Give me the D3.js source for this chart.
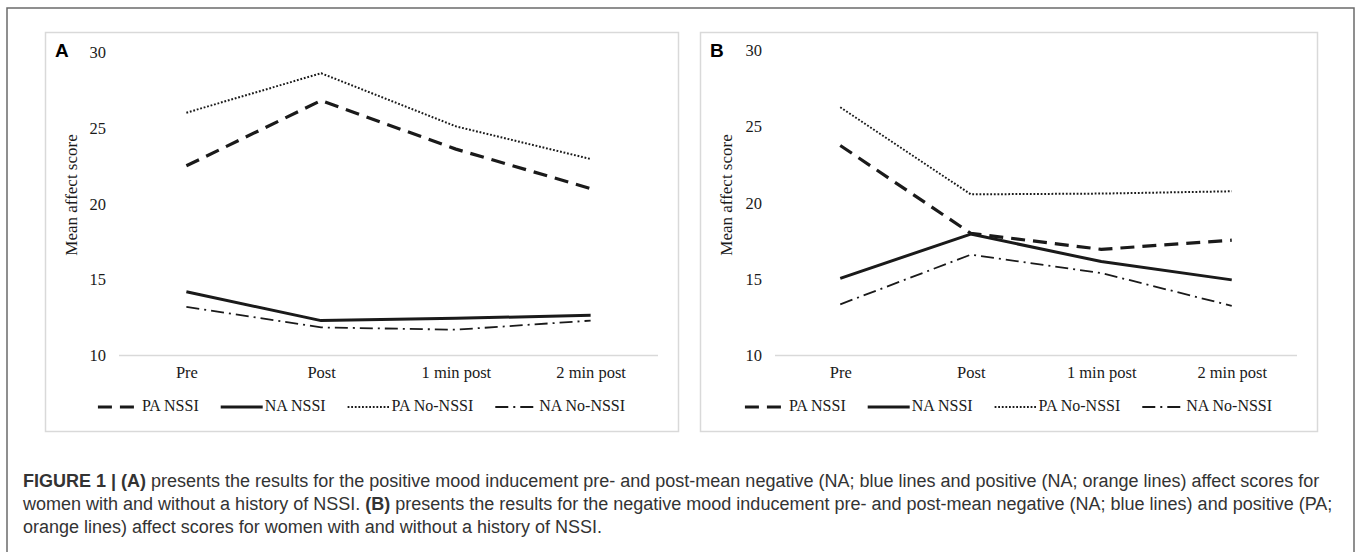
<!DOCTYPE html>
<html>
<head>
<meta charset="utf-8">
<script src="https://cdn.jsdelivr.net/npm/d3@7"></script>
<style>
  body { margin: 0; background: #fff; }
  svg { display: block; }
</style>
</head>
<body>
<div id="chart"></div>
<script>
// time points and y ticks
const categories = ["Pre", "Post", "1 min post", "2 min post"];
const yTicks = [10, 15, 20, 25, 30];
const seriesNames = ["PA NSSI", "NA NSSI", "PA No-NSSI", "NA No-NSSI"];

// panel A - positive mood inducement
const panelA_PA_NSSI = [22.5, 26.8, 23.6, 21.0];
const panelA_NA_NSSI = [14.2, 12.3, 12.45, 12.65];
const panelA_PA_NoNSSI = [26.0, 28.6, 25.1, 22.95];
const panelA_NA_NoNSSI = [13.2, 11.85, 11.7, 12.3];

// panel B - negative mood inducement
const panelB_PA_NSSI = [23.75, 18.0, 16.95, 17.55];
const panelB_NA_NSSI = [15.05, 17.95, 16.15, 14.95];
const panelB_PA_NoNSSI = [26.25, 20.55, 20.6, 20.75];
const panelB_NA_NoNSSI = [13.35, 16.6, 15.4, 13.25];

const W = 1357, H = 552;
const serif = "'Liberation Serif', 'Times New Roman', serif";
const ink = "#1a1a1a";

// line style per series (same order as seriesNames)
const styles = [
  { width: 3.2, dash: "14,8" },
  { width: 3, dash: null },
  { width: 2, dash: "1.8,1.8" },
  { width: 1.8, dash: "13,5,2,5" }
];

const svg = d3.select("#chart").append("svg")
  .attr("width", W)
  .attr("height", H);

// outer frame (bottom edge is cut off in the original)
svg.append("path")
  .attr("d", `M7,${H + 5} L7,8 L1354,8 L1354,${H + 5}`)
  .attr("fill", "none")
  .attr("stroke", "#6b6b6b")
  .attr("stroke-width", 1.5);

const panels = [
  { label: "A", box: [45, 32, 678, 431], xr: [119, 658], yr: [355.5, 52],
    data: [panelA_PA_NSSI, panelA_NA_NSSI, panelA_PA_NoNSSI, panelA_NA_NoNSSI] },
  { label: "B", box: [700, 32, 1317, 431], xr: [775, 1297], yr: [355.5, 50],
    data: [panelB_PA_NSSI, panelB_NA_NSSI, panelB_PA_NoNSSI, panelB_NA_NoNSSI] }
];

panels.forEach(p => {
  const g = svg.append("g");
  const [bx0, by0, bx1, by1] = p.box;

  g.append("rect")
    .attr("x", bx0 + 0.5).attr("y", by0 + 0.5)
    .attr("width", bx1 - bx0).attr("height", by1 - by0)
    .attr("fill", "#fff")
    .attr("stroke", "#d9d9d9")
    .attr("stroke-width", 1.5);

  const x = d3.scalePoint().domain(categories).range(p.xr).padding(0.5);
  const y = d3.scaleLinear().domain([10, 30]).range(p.yr);

  // y axis labels only
  const yAx = g.append("g")
    .attr("transform", `translate(${p.xr[0]},0)`)
    .call(d3.axisLeft(y).tickValues(yTicks).tickSize(0).tickPadding(13));
  yAx.select(".domain").remove();
  yAx.selectAll("text")
    .attr("font-family", serif).attr("font-size", 16.5).attr("fill", ink);

  // baseline at 10 plus category labels
  const xAx = g.append("g")
    .attr("transform", `translate(0,${y(10)})`)
    .call(d3.axisBottom(x).tickSize(0).tickPadding(11));
  xAx.select(".domain")
    .attr("stroke", "#d9d9d9").attr("stroke-width", 1.5)
    .attr("d", `M${p.xr[0]},0H${p.xr[1]}`);
  xAx.selectAll("text")
    .attr("font-family", serif).attr("font-size", 16.5).attr("fill", ink);

  // y title
  g.append("text")
    .attr("transform", `translate(${bx0 + 28},195) rotate(-90)`)
    .attr("text-anchor", "middle")
    .attr("dominant-baseline", "middle")
    .attr("font-family", serif).attr("font-size", 17).attr("fill", ink)
    .text("Mean affect score");

  // panel letter
  g.append("text")
    .attr("x", bx0 + 10).attr("y", 57)
    .attr("font-family", "'Liberation Sans', Arial, sans-serif")
    .attr("font-weight", "bold").attr("font-size", 19).attr("fill", "#000")
    .text(p.label);

  const line = d3.line()
    .x((d, i) => x(categories[i]))
    .y(d => y(d));

  p.data.forEach((vals, k) => {
    g.append("path")
      .datum(vals)
      .attr("fill", "none")
      .attr("stroke", ink)
      .attr("stroke-width", styles[k].width)
      .attr("stroke-dasharray", styles[k].dash)
      .attr("stroke-linejoin", "round")
      .attr("d", line);
  });

  // legend, centred in the panel
  const leg = g.append("g");
  const sampleW = 42, gapAfter = 22, ly = 407;
  let cx = 0;
  seriesNames.forEach((name, k) => {
    const it = leg.append("g").attr("transform", `translate(${cx},0)`);
    it.append("line")
      .attr("x1", 0).attr("x2", sampleW).attr("y1", ly).attr("y2", ly)
      .attr("stroke", ink)
      .attr("stroke-width", styles[k].width)
      .attr("stroke-dasharray", styles[k].dash);
    const t = it.append("text")
      .attr("x", sampleW + 2).attr("y", ly)
      .attr("dominant-baseline", "middle")
      .attr("font-family", serif).attr("font-size", 16).attr("fill", ink)
      .text(name);
    cx += sampleW + 2 + t.node().getComputedTextLength() + gapAfter;
  });
  const legW = cx - gapAfter;
  leg.attr("transform", `translate(${(bx0 + bx1) / 2 - legW / 2},0)`);
});

// caption
const capLines = [
  [["FIGURE 1 | (A)", true], [" presents the results for the positive mood inducement pre- and post-mean negative (NA; blue lines and positive (NA; orange lines) affect scores for", false]],
  [["women with and without a history of NSSI. ", false], ["(B)", true], [" presents the results for the negative mood inducement pre- and post-mean negative (NA; blue lines) and positive (PA;", false]],
  [["orange lines) affect scores for women with and without a history of NSSI.", false]]
];
const cap = svg.append("g");
capLines.forEach((parts, i) => {
  const t = cap.append("text")
    .attr("x", 23).attr("y", 487 + i * 23)
    .attr("font-family", "'Liberation Sans', Arial, sans-serif")
    .attr("font-size", 18).attr("fill", "#333");
  parts.forEach(([s, b]) => {
    t.append("tspan").attr("font-weight", b ? "bold" : "normal").text(s);
  });
});
</script>
</body>
</html>
